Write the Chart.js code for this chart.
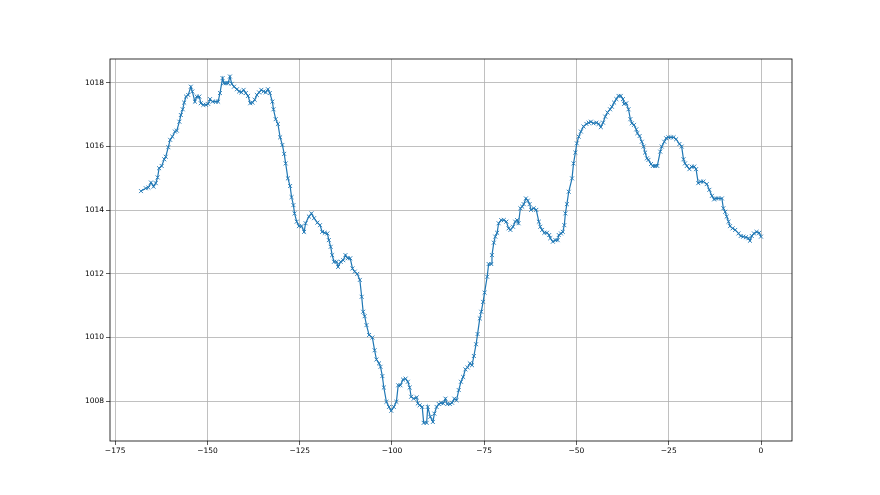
<!DOCTYPE html>
<html>
<head>
<meta charset="utf-8">
<script src="https://cdn.jsdelivr.net/npm/chart.js@4.4.0/dist/chart.umd.min.js"></script>
<style>
  html, body { margin: 0; padding: 0; background: #fff; }
</style>
</head>
<body>
<canvas id="mycanvas" width="880" height="495"></canvas>
<script>
// hours before now
var hours = [
  -168.0, -166.7, -166.0, -165.3, -164.6, -164.0, -163.5, -163.1, -162.4, -161.7,
  -161.3, -160.6, -160.1, -159.5, -158.8, -158.3, -157.6, -157.2, -156.7, -156.3,
  -155.8, -155.2, -154.5, -154.1, -153.4, -152.9, -152.2, -151.8, -151.1, -150.4,
  -149.8, -149.3, -148.6, -147.7, -147.1, -146.6, -145.9, -145.5, -145.0, -144.4,
  -143.9, -143.4, -142.8, -142.0, -141.4, -140.8, -140.2, -139.6, -139.0, -138.4,
  -137.8, -137.2, -136.6, -136.0, -135.4, -134.8, -134.2, -133.6, -133.1, -132.4,
  -132.1, -131.5, -130.9, -130.3, -129.7, -129.2, -128.8, -128.2, -127.6, -127.2,
  -126.7, -126.4, -125.8, -125.2, -124.5, -123.8, -123.4, -122.5, -121.8, -121.1,
  -120.2, -119.5, -118.9, -118.2, -117.5, -117.1, -116.6, -116.2, -115.7, -115.0,
  -114.6, -113.9, -113.2, -112.6, -112.0, -111.3, -110.7, -110.1, -109.4,
  -108.7, -108.2, -107.8, -107.4, -106.9, -106.2, -105.3, -104.7, -104.2, -103.5,
  -103.1, -102.6, -102.2, -101.5, -100.8, -100.2, -99.5, -98.8, -98.3, -97.7,
  -97.0, -96.3, -95.7, -95.2, -94.8, -94.1, -93.3, -93.0, -92.5, -91.8,
  -91.4, -90.6, -90.3, -89.6, -88.9, -88.5, -87.9, -87.3, -86.7, -86.1,
  -85.5, -85.0, -84.3, -83.7, -83.1, -82.5, -81.9, -81.3, -80.7, -80.1,
  -79.5, -78.9, -78.3, -77.8, -77.2, -76.8, -76.2, -75.8, -75.3, -74.9,
  -74.2, -73.8, -73.1,
  -72.9, -72.4, -72.0, -71.5, -71.1, -70.4, -69.7, -69.0, -68.4, -67.9,
  -67.2, -66.6, -66.1, -65.7, -65.2, -64.7, -64.3, -63.7, -63.2, -62.7,
  -62.3, -61.6, -60.9, -60.2, -59.8, -59.3, -58.7, -58.0, -57.4, -57.1,
  -56.4, -55.7, -55.1, -54.8, -54.2, -53.7, -53.3, -53.0, -52.6, -52.1,
  -51.2, -50.8, -50.3, -49.9, -49.4, -48.8, -48.1, -47.3, -46.7, -46.1,
  -45.4, -44.6, -44.0, -43.4, -42.8, -42.2, -41.6, -40.9, -40.4, -39.8,
  -39.2, -38.6, -38.0, -37.4, -37.1, -36.5, -35.9, -35.4, -35.0, -34.4,
  -33.8, -33.5, -32.9, -32.3, -31.8, -31.4, -30.9, -30.5, -29.8, -29.3,
  -28.7, -28.1, -27.3, -26.9, -26.2, -25.7, -25.1, -24.4, -23.7, -23.0,
  -22.1, -21.5, -21.0, -20.6, -20.1, -19.4, -18.8, -18.1, -17.6, -17.0,
  -16.3, -15.6, -14.7, -14.0, -13.3, -12.7, -12.2, -11.6, -10.6, -10.2,
  -9.7, -9.3, -8.8, -8.4, -7.7, -7.0, -6.1, -5.5, -4.8, -4.1,
  -3.4, -3.0, -2.5, -1.9, -1.2, -0.5, 0.0
];

// pressure (hPa)
var pressure = [
  1014.60, 1014.69, 1014.71, 1014.87, 1014.74, 1014.85, 1015.03, 1015.32, 1015.39, 1015.60,
  1015.68, 1015.98, 1016.21, 1016.31, 1016.47, 1016.50, 1016.78, 1016.99, 1017.17, 1017.38,
  1017.57, 1017.62, 1017.88, 1017.73, 1017.41, 1017.57, 1017.57, 1017.36, 1017.31, 1017.31,
  1017.34, 1017.49, 1017.41, 1017.41, 1017.41, 1017.68, 1018.15, 1017.99, 1017.99, 1017.99,
  1018.20, 1017.97, 1017.88, 1017.80, 1017.73, 1017.70, 1017.78, 1017.68, 1017.59, 1017.36,
  1017.38, 1017.47, 1017.62, 1017.70, 1017.78, 1017.73, 1017.70, 1017.80, 1017.68, 1017.41,
  1017.17, 1016.86, 1016.71, 1016.29, 1016.05, 1015.77, 1015.47, 1015.00, 1014.76, 1014.41,
  1014.16, 1013.90, 1013.64, 1013.50, 1013.50, 1013.32, 1013.59, 1013.80, 1013.90, 1013.75,
  1013.61, 1013.53, 1013.32, 1013.29, 1013.27, 1013.06, 1012.85, 1012.59, 1012.38, 1012.38,
  1012.22, 1012.38, 1012.43, 1012.59, 1012.49, 1012.49, 1012.17, 1012.07, 1012.00,
  1011.81, 1011.28, 1010.81, 1010.67, 1010.39, 1010.08, 1010.00, 1009.60, 1009.31, 1009.19,
  1009.08, 1008.79, 1008.43, 1007.98, 1007.82, 1007.70, 1007.82, 1007.98, 1008.50, 1008.50,
  1008.68, 1008.71, 1008.61, 1008.43, 1008.14, 1008.08, 1008.12, 1007.93, 1007.87, 1007.82,
  1007.32, 1007.32, 1007.82, 1007.51, 1007.35, 1007.61, 1007.82, 1007.91, 1007.95, 1007.93,
  1008.08, 1007.91, 1007.91, 1007.95, 1008.08, 1008.03, 1008.35, 1008.61, 1008.76, 1009.00,
  1009.06, 1009.19, 1009.13, 1009.42, 1009.79, 1010.11, 1010.60, 1010.81, 1011.12, 1011.41,
  1011.91, 1012.31, 1012.31,
  1012.59, 1012.98, 1013.17, 1013.29, 1013.59, 1013.69, 1013.69, 1013.64, 1013.43, 1013.38,
  1013.48, 1013.64, 1013.69, 1013.59, 1014.06, 1014.11, 1014.19, 1014.37, 1014.30, 1014.19,
  1014.01, 1014.06, 1014.01, 1013.64, 1013.48, 1013.38, 1013.29, 1013.29, 1013.22, 1013.12,
  1013.01, 1013.06, 1013.06, 1013.22, 1013.27, 1013.32, 1013.53, 1013.90, 1014.19, 1014.58,
  1015.00, 1015.47, 1015.81, 1016.10, 1016.31, 1016.47, 1016.63, 1016.71, 1016.75, 1016.78,
  1016.73, 1016.75, 1016.71, 1016.61, 1016.75, 1016.94, 1017.07, 1017.17, 1017.25, 1017.38,
  1017.49, 1017.59, 1017.59, 1017.49, 1017.34, 1017.36, 1017.17, 1016.86, 1016.73, 1016.68,
  1016.54, 1016.42, 1016.33, 1016.15, 1016.00, 1015.81, 1015.63, 1015.58, 1015.45, 1015.39,
  1015.39, 1015.39, 1015.84, 1016.00, 1016.15, 1016.26, 1016.29, 1016.29, 1016.29, 1016.23,
  1016.08, 1016.00, 1015.60, 1015.47, 1015.39, 1015.29, 1015.37, 1015.37, 1015.29, 1014.85,
  1014.90, 1014.90, 1014.82, 1014.64, 1014.45, 1014.34, 1014.37, 1014.37, 1014.37, 1014.06,
  1013.95, 1013.80, 1013.64, 1013.50, 1013.43, 1013.38, 1013.27, 1013.19, 1013.17, 1013.15,
  1013.12, 1013.04, 1013.19, 1013.27, 1013.32, 1013.29, 1013.17
];

var xTicks = [-175, -150, -125, -100, -75, -50, -25, 0];
var yTicks = [1008, 1010, 1012, 1014, 1016, 1018];

var points = [];
for (var i in hours) {
    points.push({x: hours[i], y: pressure[i]});
}

// box round the plot, like matplotlib spines
var frame = {
    id: 'frame',
    afterDraw: function(chart) {
        var a = chart.chartArea;
        var ctx = chart.ctx;
        ctx.save();
        ctx.strokeStyle = '#000';
        ctx.lineWidth = 0.8;
        ctx.strokeRect(a.left, a.top, a.right - a.left, a.bottom - a.top);
        ctx.restore();
    }
};

var tickFont = { family: 'DejaVu Sans', size: 7.5 };

var ctx = document.getElementById('mycanvas');

var lineGraph = new Chart(ctx, {
    type: 'line',
    data: {
        datasets: [
            {
                data: points,
                borderColor: '#1f77b4',
                borderWidth: 1.2,
                pointStyle: 'crossRot',
                pointRadius: 2.8,
                pointBorderWidth: 0.9,
                pointBorderColor: '#1f77b4',
                pointBackgroundColor: '#1f77b4',
                tension: 0,
                fill: false
            }
        ]
    },
    options: {
        responsive: false,
        animation: false,
        devicePixelRatio: 1,
        layout: { padding: { top: 59, right: 88, left: 0, bottom: 0 } },
        plugins: { legend: { display: false }, tooltip: { enabled: false } },
        scales: {
            x: {
                type: 'linear',
                min: -176.4,
                max: 8.4,
                afterBuildTicks: function(s) {
                    s.ticks = xTicks.map(function(v) { return {value: v}; });
                },
                afterFit: function(s) { s.height = 54; },
                grid: { color: '#b0b0b0', lineWidth: 0.8, tickLength: 4, tickColor: '#333' },
                border: { display: false },
                ticks: {
                    font: tickFont,
                    color: '#000',
                    padding: 2,
                    maxRotation: 0,
                    callback: function(v) { return String(v).replace('-', '\u2212'); }
                }
            },
            y: {
                min: 1006.75,
                max: 1018.75,
                afterBuildTicks: function(s) {
                    s.ticks = yTicks.map(function(v) { return {value: v}; });
                },
                afterFit: function(s) { s.width = 110; },
                grid: { color: '#b0b0b0', lineWidth: 0.8, tickLength: 4, tickColor: '#333' },
                border: { display: false },
                ticks: {
                    font: tickFont,
                    color: '#000',
                    padding: 2,
                    callback: function(v) { return String(v); }
                }
            }
        }
    },
    plugins: [frame]
});
</script>
</body>
</html>
